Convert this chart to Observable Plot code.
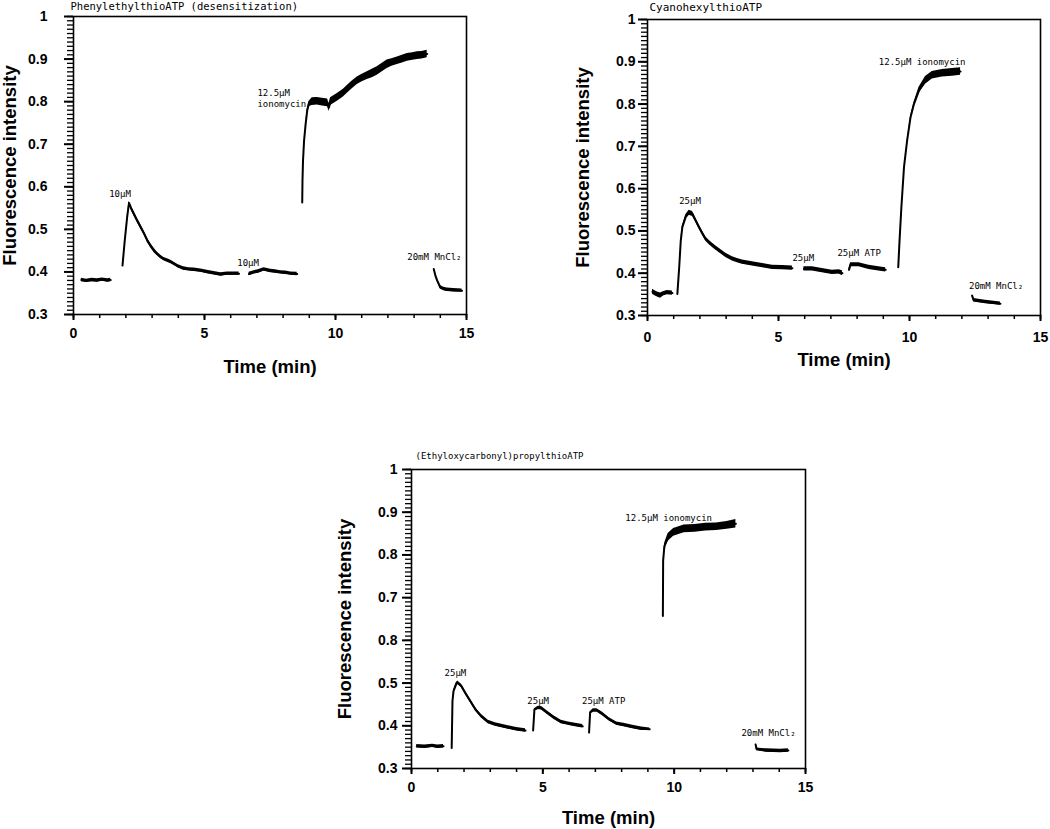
<!DOCTYPE html>
<html><head><meta charset="utf-8">
<script src="https://cdn.jsdelivr.net/npm/d3@7"></script>
<script src="https://cdn.jsdelivr.net/npm/@observablehq/plot@0.6"></script>
<style>
body{margin:0;background:#fff;}
.panel{position:absolute;}
.panel svg{position:absolute;left:0;top:0;}
</style></head>
<body>
<div class="panel" id="p1" style="left:0px;top:0px"></div>
<div class="panel" id="p2" style="left:525px;top:0px"></div>
<div class="panel" id="p3" style="left:280px;top:400px"></div>
<script>
// ---------- shared axis values ----------
const yTicks = [0.3, 0.4, 0.5, 0.6, 0.7, 0.8, 0.9, 1];
const yTickLabelsStd = ["0.3", "0.4", "0.5", "0.6", "0.7", "0.8", "0.9", "1"];
const yTickLabelsP3 = ["0.3", "0.4", "0.5", "0.8", "0.7", "0.8", "0.9", "1"];
const xTicks = [0, 5, 10, 15];
const xTickLabels = ["0", "5", "10", "15"];
const xLabel = "Time (min)";
const yLabel = "Fluorescence intensity";

// ---------- panel 1: PhenylethylthioATP (desensitization) ----------
// [time (min), intensity, half-width of the noisy trace]
const p1Title = "PhenylethylthioATP (desensitization)";
const p1Baseline = [[0.3,0.381,0.004],[0.5,0.379,0.004],[0.7,0.381,0.004],[0.9,0.380,0.004],[1.1,0.382,0.004],[1.3,0.380,0.004],[1.42,0.381,0.004]];
const p1Agonist1 = [[1.87,0.415,0],[1.95,0.47,0],[2.05,0.53,0.001],[2.12,0.562,0.004],[2.2,0.55,0.005],[2.31,0.536,0.005],[2.44,0.52,0.005],[2.57,0.505,0.005],[2.7,0.49,0.005],[2.82,0.474,0.005],[2.95,0.461,0.005],[3.08,0.45,0.005],[3.2,0.442,0.004],[3.33,0.435,0.004],[3.45,0.43,0.004],[3.58,0.427,0.004],[3.7,0.424,0.004],[3.84,0.419,0.004],[4.0,0.413,0.004],[4.2,0.408,0.004],[4.4,0.406,0.004],[4.6,0.405,0.004],[4.86,0.403,0.004],[5.1,0.4,0.004],[5.36,0.397,0.004],[5.62,0.394,0.004],[5.87,0.396,0.004],[6.1,0.396,0.004],[6.32,0.396,0.004]];
const p1Agonist2 = [[6.7,0.395,0.004],[6.89,0.399,0.004],[7.05,0.401,0.004],[7.27,0.406,0.004],[7.4,0.404,0.004],[7.53,0.402,0.004],[7.7,0.401,0.004],[7.9,0.399,0.004],[8.1,0.398,0.004],[8.29,0.396,0.004],[8.54,0.395,0.004]];
const p1Ionomycin = [[8.73,0.563,0],[8.74,0.614,0],[8.76,0.661,0],[8.8,0.708,0],[8.86,0.747,0.001],[8.92,0.779,0.003],[8.98,0.794,0.006],[9.11,0.8,0.009],[9.3,0.801,0.009],[9.5,0.799,0.009],[9.7,0.797,0.009],[9.75,0.786,0.009],[9.81,0.8,0.009],[10.07,0.81,0.009],[10.3,0.82,0.009],[10.45,0.829,0.009],[10.65,0.84,0.009],[10.83,0.849,0.009],[11.0,0.855,0.009],[11.21,0.861,0.009],[11.4,0.866,0.01],[11.59,0.872,0.01],[11.8,0.881,0.01],[11.97,0.888,0.01],[12.15,0.892,0.009],[12.36,0.896,0.009],[12.55,0.9,0.009],[12.74,0.904,0.009],[12.95,0.906,0.009],[13.12,0.908,0.009],[13.3,0.909,0.009],[13.5,0.912,0.009]];
const p1MnCl2 = [[13.75,0.407,0],[13.82,0.39,0.001],[13.88,0.38,0.003],[14.0,0.364,0.004],[14.13,0.36,0.004],[14.26,0.358,0.004],[14.5,0.357,0.004],[14.83,0.356,0.004]];
const p1Notes = [
  {t: 1.36, v: 0.585, text: "10\u03bcM"},
  {t: 6.25, v: 0.421, text: "10\u03bcM"},
  {t: 7.02, v: 0.809, text: "12.5\u03bcM\nionomycin"},
  {t: 12.74, v: 0.435, text: "20mM MnCl\u2082"}
];

// ---------- panel 2: CyanohexylthioATP ----------
const p2Title = "CyanohexylthioATP";
const p2Baseline = [[0.19,0.356,0.006],[0.3,0.352,0.006],[0.4,0.349,0.006],[0.5,0.347,0.006],[0.6,0.351,0.005],[0.75,0.354,0.005],[0.95,0.353,0.005]];
const p2Agonist1 = [[1.14,0.351,0],[1.21,0.414,0],[1.27,0.477,0.001],[1.33,0.509,0.003],[1.46,0.533,0.005],[1.59,0.543,0.006],[1.72,0.54,0.006],[1.84,0.525,0.005],[1.97,0.509,0.005],[2.1,0.494,0.005],[2.22,0.481,0.005],[2.35,0.473,0.005],[2.48,0.466,0.005],[2.6,0.46,0.005],[2.73,0.454,0.005],[2.86,0.448,0.005],[2.99,0.442,0.005],[3.24,0.434,0.005],[3.43,0.43,0.005],[3.62,0.426,0.005],[4.0,0.422,0.005],[4.39,0.418,0.005],[4.77,0.414,0.005],[5.15,0.413,0.005],[5.53,0.412,0.005]];
const p2Agonist2 = [[5.97,0.41,0.005],[6.29,0.41,0.005],[6.67,0.406,0.005],[7.05,0.402,0.005],[7.31,0.403,0.005],[7.44,0.4,0.006]];
const p2ATP = [[7.69,0.408,0.004],[7.75,0.42,0.005],[8.07,0.42,0.005],[8.45,0.414,0.005],[8.83,0.41,0.005],[9.09,0.408,0.005]];
const p2Ionomycin = [[9.57,0.414,0],[9.62,0.477,0],[9.69,0.556,0],[9.79,0.651,0],[9.91,0.714,0.001],[10.04,0.769,0.002],[10.17,0.8,0.004],[10.36,0.832,0.007],[10.61,0.856,0.009],[10.87,0.868,0.009],[11.25,0.873,0.009],[11.63,0.875,0.009],[11.95,0.877,0.009]];
const p2MnCl2 = [[12.39,0.347,0.002],[12.45,0.336,0.004],[12.9,0.332,0.004],[13.47,0.328,0.004]];
const p2Notes = [
  {t: 1.21, v: 0.573, text: "25\u03bcM"},
  {t: 5.53, v: 0.436, text: "25\u03bcM"},
  {t: 7.25, v: 0.448, text: "25\u03bcM ATP"},
  {t: 8.83, v: 0.9, text: "12.5\u03bcM ionomycin"},
  {t: 12.27, v: 0.371, text: "20mM MnCl\u2082"}
];

// ---------- panel 3: (Ethyloxycarbonyl)propylthioATP ----------
const p3Title = "(Ethyloxycarbonyl)propylthioATP";
const p3Baseline = [[0.2,0.352,0.004],[0.5,0.351,0.004],[0.8,0.353,0.004],[1.0,0.351,0.004],[1.22,0.352,0.004]];
const p3Agonist1 = [[1.53,0.348,0],[1.56,0.458,0],[1.6,0.481,0.002],[1.7,0.497,0.004],[1.76,0.501,0.004],[1.9,0.493,0.004],[2.04,0.478,0.004],[2.24,0.458,0.004],[2.44,0.438,0.004],[2.65,0.423,0.004],[2.92,0.409,0.004],[3.19,0.403,0.004],[3.6,0.397,0.004],[4.0,0.392,0.004],[4.34,0.389,0.004]];
const p3Agonist2 = [[4.63,0.389,0],[4.68,0.438,0.002],[4.82,0.442,0.004],[4.95,0.441,0.004],[5.16,0.431,0.004],[5.43,0.419,0.004],[5.7,0.409,0.004],[5.97,0.405,0.004],[6.24,0.402,0.004],[6.52,0.399,0.004]];
const p3ATP = [[6.76,0.384,0],[6.8,0.431,0.002],[6.92,0.436,0.004],[7.06,0.436,0.004],[7.26,0.428,0.004],[7.53,0.415,0.004],[7.81,0.405,0.004],[8.08,0.402,0.004],[8.42,0.397,0.004],[8.76,0.393,0.004],[9.07,0.392,0.003]];
const p3Ionomycin = [[9.57,0.657,0],[9.58,0.786,0],[9.62,0.815,0.004],[9.64,0.822,0.006],[9.77,0.841,0.009],[9.98,0.853,0.009],[10.38,0.861,0.009],[10.79,0.862,0.009],[11.2,0.865,0.009],[11.61,0.866,0.009],[12.01,0.869,0.009],[12.35,0.873,0.01]];
const p3MnCl2 = [[13.1,0.356,0.002],[13.14,0.345,0.003],[13.5,0.342,0.004],[14.05,0.341,0.004],[14.35,0.342,0.004]];
const p3Notes = [
  {t: 1.26, v: 0.524, text: "25\u03bcM"},
  {t: 4.41, v: 0.46, text: "25\u03bcM"},
  {t: 6.49, v: 0.46, text: "25\u03bcM ATP"},
  {t: 8.14, v: 0.888, text: "12.5\u03bcM ionomycin"},
  {t: 12.56, v: 0.384, text: "20mM MnCl\u2082"}
];

// ---------- drawing ----------
const SANS = "'Liberation Sans', Arial, Helvetica, sans-serif";
const MONO = "'DejaVu Sans Mono', 'Liberation Mono', monospace";
const yMinorTicks = d3.range(30, 101).map(k => k / 100);
const xMinorTicks = d3.range(0, 16);

function drawPanel(el, cfg) {
  const rows = cfg.segments.flatMap((pts, si) => pts.map(([t, v, n]) => ({seg: si, t, v, n})));
  const yLab = new Map(yTicks.map((d, i) => [d, cfg.yTickLabels[i]]));
  const xLab = new Map(xTicks.map((d, i) => [d, xTickLabels[i]]));
  const dims = {width: cfg.width, height: cfg.height,
    marginLeft: cfg.ml, marginRight: cfg.mr, marginTop: cfg.mt, marginBottom: cfg.mb};
  el.style.width = cfg.width + "px";
  el.style.height = cfg.height + "px";

  // layer 1: axes, ticks and frame
  const axes = Plot.plot({
    ...dims,
    x: {domain: [0, 15]},
    y: {domain: [0.3, 1]},
    style: {background: "white", color: "black", fontFamily: SANS},
    marks: [
      Plot.axisY(yMinorTicks, {tickSize: 6, stroke: "black", strokeWidth: 1.3, tickFormat: () => "", label: null}),
      Plot.axisY(yTicks, {tickSize: 9, stroke: "black", strokeWidth: 2, tickPadding: cfg.yPad - 2,
        tickFormat: d => yLab.get(d), label: null, fontSize: 14, fontWeight: "bold", fontFamily: SANS}),
      Plot.axisX(xMinorTicks, {tickSize: 4, stroke: "black", strokeWidth: 1.5, tickFormat: () => "", label: null}),
      Plot.axisX(xTicks, {tickSize: 6, stroke: "black", strokeWidth: 2, tickPadding: cfg.xPad - 1,
        tickFormat: d => xLab.get(d), label: null, fontSize: 14, fontWeight: "bold", fontFamily: SANS}),
      Plot.frame({stroke: "black", strokeWidth: 1.6})
    ]
  });
  el.appendChild(axes);

  // layer 2: traces, annotations and titles (transparent, same frame)
  const data = Plot.plot({
    ...dims,
    x: {domain: [0, 15], axis: null},
    y: {domain: [0.3, 1], axis: null},
    style: {background: "none", color: "black", fontFamily: SANS},
    marks: [
      Plot.areaY(rows, {x: "t", y1: d => d.v - d.n, y2: d => d.v + d.n, z: "seg", fill: "black"}),
      Plot.line(rows, {x: "t", y: "v", z: "seg", stroke: "black", strokeWidth: 2}),
      Plot.text([yLabel], {text: d => d, frameAnchor: "left", textAnchor: "middle", lineAnchor: "middle",
        rotate: -90, dx: cfg.yTitleDx, fontSize: 18.5, fontWeight: "bold", fontFamily: SANS}),
      Plot.text([xLabel], {text: d => d, frameAnchor: "bottom", textAnchor: "middle", lineAnchor: "middle",
        dy: cfg.xTitleDy, fontSize: 18.5, fontWeight: "bold", fontFamily: SANS}),
      Plot.text([cfg.title], {text: d => d, frameAnchor: "top-left", textAnchor: "start", lineAnchor: "middle",
        dx: cfg.titleDx, dy: cfg.titleDy, fontSize: cfg.titleSize, fontFamily: MONO}),
      Plot.text(cfg.notes, {x: "t", y: "v", text: "text", textAnchor: "start", lineAnchor: "middle",
        lineHeight: 1.2, fontSize: 9, fontFamily: MONO})
    ]
  });
  el.appendChild(data);
}

drawPanel(document.getElementById("p1"), {
  width: 525, height: 385, ml: 73, mr: 59, mt: 16, mb: 71,
  yPad: 19, xPad: 9, yTitleDx: -63, xTitleDy: 53, titleDx: -3, titleDy: -10, titleSize: 10.5,
  title: p1Title, yTickLabels: yTickLabelsStd, notes: p1Notes,
  segments: [p1Baseline, p1Agonist1, p1Agonist2, p1Ionomycin, p1MnCl2]
});
drawPanel(document.getElementById("p2"), {
  width: 525, height: 385, ml: 122, mr: 10, mt: 19, mb: 70,
  yPad: 5, xPad: 12, yTitleDx: -64, xTitleDy: 45, titleDx: 2, titleDy: -12, titleSize: 11,
  title: p2Title, yTickLabels: yTickLabelsStd, notes: p2Notes,
  segments: [p2Baseline, p2Agonist1, p2Agonist2, p2ATP, p2Ionomycin, p2MnCl2]
});
drawPanel(document.getElementById("p3"), {
  width: 540, height: 429, ml: 131, mr: 15, mt: 69, mb: 61,
  yPad: 7, xPad: 9, yTitleDx: -66, xTitleDy: 50, titleDx: 4, titleDy: -13, titleSize: 9,
  title: p3Title, yTickLabels: yTickLabelsP3, notes: p3Notes,
  segments: [p3Baseline, p3Agonist1, p3Agonist2, p3ATP, p3Ionomycin, p3MnCl2]
});
</script>
</body></html>
